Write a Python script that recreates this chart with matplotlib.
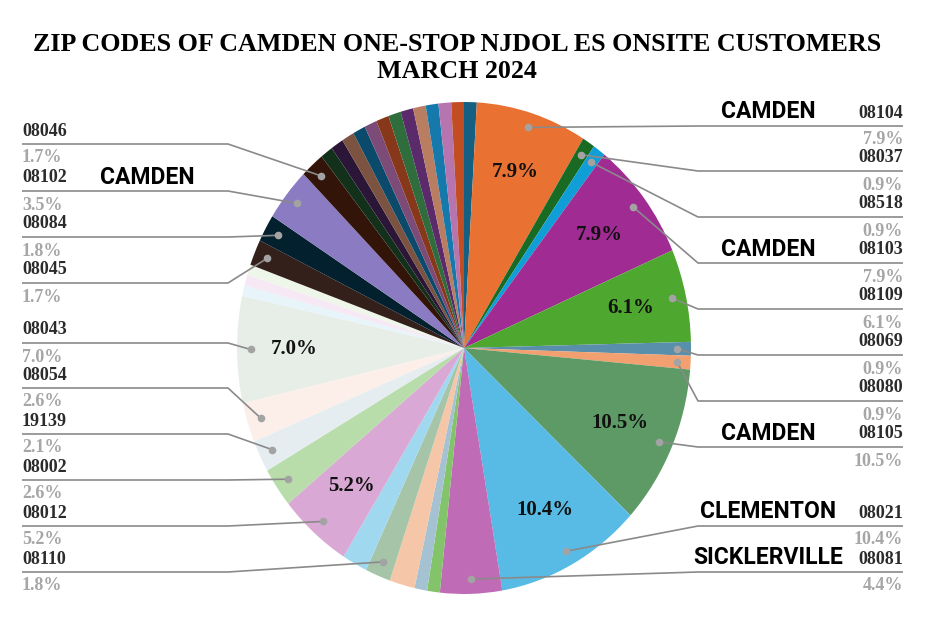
import matplotlib
matplotlib.use("Agg")
import matplotlib.pyplot as plt
import numpy as np

# ---------------- data (clockwise from 12 o'clock) ----------------
zips = ['', '08104', '08037', '08518', '08103', '08109', '08069', '08080', '08105', '08021', '08081',
        '', '', '', '08110', '', '08012', '08002', '19139', '08054', '08043',
        '', '', '', '08045', '08084', '08102', '08046',
        '', '', '', '', '', '', '', '', '', '', '', '']
shares = [0.9, 7.9, 0.9, 0.9, 7.9, 6.1, 0.9, 0.9, 10.5, 10.4, 4.4,
          0.9, 0.9, 1.8, 1.8, 1.8, 5.2, 2.6, 2.1, 2.6, 7.0,
          0.7, 0.7, 0.7, 1.7, 1.8, 3.5, 1.7,
          0.9, 0.9, 0.9, 0.9, 0.9, 0.9, 0.9, 0.9, 0.9, 0.9, 0.9, 0.9]
city_zips = ['08104', '08103', '08105', '08021', '08081', '08102']
city_names = ['CAMDEN', 'CAMDEN', 'CAMDEN', 'CLEMENTON', 'SICKLERVILLE', 'CAMDEN']
title = "ZIP CODES OF CAMDEN ONE-STOP NJDOL ES ONSITE CUSTOMERS\nMARCH 2024"

# ---------------- styles ----------------
colors = ['#156082', '#E97132', '#196B24', '#0F9ED5', '#A02B93', '#4EA72E',
          '#5A8FAB', '#F2A070', '#5E9A66', '#57BBE5', '#C06BB5', '#83C46B',
          '#A5C2D2', '#F5C6A8', '#A5C4A8', '#A0D8EF', '#D9A8D4', '#B8DCAA',
          '#E5EDF1', '#FCEFE9', '#E7EEE8', '#E7F4FA', '#F6E8F4', '#EEF6EA',
          '#33201A', '#03202E', '#8B7BC2', '#321408',
          '#13301B', '#2B1638', '#7B5340', '#0B4A6B', '#7C4B78', '#88381A',
          '#2F6E3C', '#5B2A6B', '#B97D62', '#1679AB', '#B775B0', '#C24D22']

# label layout (pixel rows of the horizontal leader lines)
right_lines = {'08104': 126, '08037': 171, '08518': 217, '08103': 263, '08109': 309,
               '08069': 355, '08080': 401, '08105': 447, '08021': 526, '08081': 572}
left_lines = {'08046': 144, '08102': 191, '08084': 237, '08045': 283, '08043': 343,
              '08054': 388, '19139': 434, '08002': 480, '08012': 526, '08110': 572}

W, H = 932, 624
fig = plt.figure(figsize=(W / 100, H / 100), dpi=100)
fig.patch.set_facecolor('white')

cx, cy, rx, ry = 464, 348, 227, 246
ax = fig.add_axes([(cx - rx) / W, (H - cy - ry) / H, 2 * rx / W, 2 * ry / H])
wedges, _ = ax.pie(shares, colors=colors, startangle=90, counterclock=False,
                   wedgeprops=dict(linewidth=0))
ax.set_aspect('auto')
ax.set_xlim(-1, 1)
ax.set_ylim(-1, 1)
ax.axis('off')

ov = fig.add_axes([0, 0, 1, 1], zorder=5)
ov.set_xlim(0, W)
ov.set_ylim(H, 0)
ov.axis('off')


def to_ov(x, y):
    disp = ax.transData.transform((x, y))
    return ov.transData.inverted().transform(disp)


serif = 'Liberation Serif'
city_font = ['Liberation Sans Narrow', 'Roboto', 'DejaVu Sans']

for w, v, z in zip(wedges, shares, zips):
    mid = np.deg2rad((w.theta1 + w.theta2) / 2)
    if v >= 5:
        px, py = to_ov(0.75 * np.cos(mid), 0.75 * np.sin(mid))
        ov.text(px, py, f"{v:.1f}%", ha='center', va='center', family=serif,
                weight='bold', fontsize=15, color='#111111')
    if not z:
        continue
    dx, dy = to_ov(0.94 * np.cos(mid), 0.94 * np.sin(mid))
    if z in right_lines:
        ly = right_lines[z]
        elbow, end, tx, ha = 698, 903, 903, 'right'
    else:
        ly = left_lines[z]
        elbow, end, tx, ha = 228, 22, 22, 'left'
    ov.plot([dx, elbow, end], [dy, ly, ly], color='#8a8a8a', lw=1.2,
            solid_capstyle='butt', zorder=3)
    ov.plot(dx, dy, 'o', ms=5.5, color='#a3a3a3', mec='none', zorder=4)
    ov.text(tx, ly - 13, z, ha=ha, va='center', family=serif, weight='bold',
            fontsize=13, color='#2b2b2b')
    ov.text(tx, ly + 14, f"{v:.1f}%", ha=ha, va='center', family=serif,
            weight='bold', fontsize=13, color='#a6a6a6')

for cz, cn in zip(city_zips, city_names):
    if cz in right_lines:
        x, y = 768, right_lines[cz] - 14
    else:
        x, y = 147, left_lines[cz] - 14
    ov.text(x, y, cn, ha='center', va='center', family=city_font,
            weight='bold', fontsize=16.5, color='#000000')

ov.text(457, 58, title, ha='center', va='center', family=serif, weight='bold',
        fontsize=18.7, color='#000000', linespacing=1.22)

fig.savefig('out.png', dpi=100)
